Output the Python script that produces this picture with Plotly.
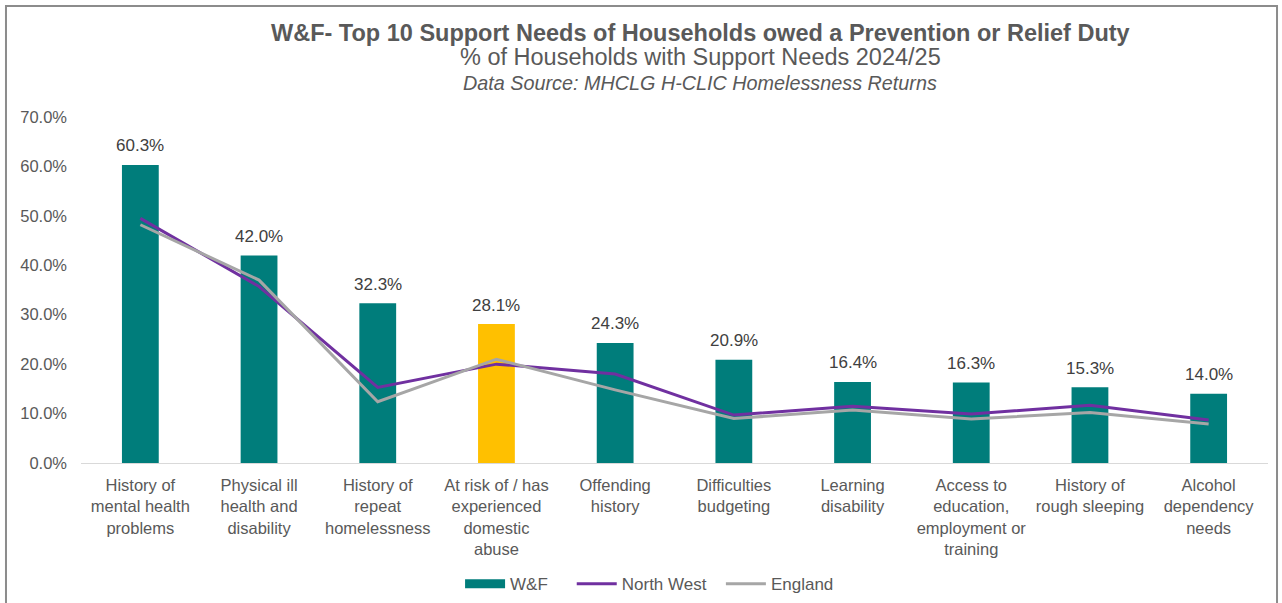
import plotly.graph_objects as go

# Support need categories (line breaks as shown on the axis)
categories = [
    "History of<br>mental health<br>problems",
    "Physical ill<br>health and<br>disability",
    "History of<br>repeat<br>homelessness",
    "At risk of / has<br>experienced<br>domestic<br>abuse",
    "Offending<br>history",
    "Difficulties<br>budgeting",
    "Learning<br>disability",
    "Access to<br>education,<br>employment or<br>training",
    "History of<br>rough sleeping",
    "Alcohol<br>dependency<br>needs",
]

# % of households with each support need, 2024/25
wf_values = [60.3, 42.0, 32.3, 28.1, 24.3, 20.9, 16.4, 16.3, 15.3, 14.0]
north_west_values = [49.5, 35.7, 15.3, 20.0, 18.0, 9.7, 11.5, 9.9, 11.7, 8.7]
england_values = [48.2, 37.0, 12.4, 21.0, 14.8, 9.0, 10.7, 8.9, 10.2, 7.9]

y_ticks = [0, 10, 20, 30, 40, 50, 60, 70]

TEAL = "#007D7B"
GOLD = "#FFC000"
PURPLE = "#7030A0"
GREY = "#A6A6A6"
TEXT = "#595959"
FONT = "Liberation Sans, Arial, sans-serif"
NBSP = "\u00a0"

# Domestic abuse bar is highlighted
bar_colors = [GOLD if "domestic" in c else TEAL for c in categories]

fig = go.Figure()
fig.add_trace(go.Bar(
    x=categories, y=wf_values, name="W&F",
    marker=dict(color=bar_colors, line=dict(width=0)),
    width=0.31,
    showlegend=False,
))
# Legend swatch for the bars: a wide, thick teal block
fig.add_trace(go.Scatter(
    x=[None], y=[None], name="W&F" + NBSP * 4, mode="lines",
    line=dict(color=TEAL, width=9),
))
fig.add_trace(go.Scatter(
    x=categories, y=north_west_values, name="North West" + NBSP * 2,
    mode="lines", line=dict(color=PURPLE, width=3),
))
fig.add_trace(go.Scatter(
    x=categories, y=england_values, name="England",
    mode="lines", line=dict(color=GREY, width=3),
))

# Value labels above each bar
value_labels = [
    dict(x=c, y=v, xref="x", yref="y", text=f"{v:.1f}%", showarrow=False,
         yanchor="middle", yshift=19,
         font=dict(size=17, color="#404040", family=FONT))
    for c, v in zip(categories, wf_values)
]

titles = [
    dict(text="<b>W&F- Top 10 Support Needs of Households owed a Prevention or Relief Duty</b>",
         xref="paper", yref="paper", x=0.5215, y=1.243, xanchor="center", yanchor="middle",
         showarrow=False, font=dict(size=23.5, color=TEXT, family=FONT)),
    dict(text="% of Households with Support Needs 2024/25",
         xref="paper", yref="paper", x=0.5215, y=1.173, xanchor="center", yanchor="middle",
         showarrow=False, font=dict(size=23.5, color=TEXT, family=FONT)),
    dict(text="<i>Data Source: MHCLG H-CLIC Homelessness Returns</i>",
         xref="paper", yref="paper", x=0.5215, y=1.098, xanchor="center", yanchor="middle",
         showarrow=False, font=dict(size=19.8, color=TEXT, family=FONT)),
]

fig.update_layout(
    width=1282, height=603,
    margin=dict(l=81, r=14, t=117, b=140, autoexpand=False),
    paper_bgcolor="white", plot_bgcolor="white",
    font=dict(family=FONT, color=TEXT, size=16),
    showlegend=True,
    legend=dict(
        orientation="h", x=0.479, xanchor="center", xref="paper",
        y=-0.35, yanchor="middle",
        font=dict(size=17, color=TEXT, family=FONT),
        itemwidth=40, traceorder="normal",
    ),
    shapes=[dict(
        type="rect", xref="paper", yref="paper",
        x0=-0.0632, x1=1.0076, y0=1.321, y1=-0.5,
        line=dict(color="#8C8C8C", width=2), fillcolor="rgba(0,0,0,0)",
        layer="below",
    )],
    annotations=titles + value_labels,
)

fig.update_xaxes(
    showgrid=False, showline=True, linecolor="#D9D9D9", linewidth=1,
    ticks="", tickfont=dict(size=16.5, color=TEXT, family=FONT),
    tickangle=0, automargin=False, ticklabelstandoff=7,
)
fig.update_yaxes(
    range=[0, 70], tickvals=y_ticks,
    ticktext=[f"{v:.1f}%" for v in y_ticks],
    showgrid=False, zeroline=False, showline=False,
    tickfont=dict(size=16.5, color=TEXT, family=FONT),
    ticks="", ticklen=0, automargin=False, ticklabelstandoff=13,
)

fig.write_html("out.html")
